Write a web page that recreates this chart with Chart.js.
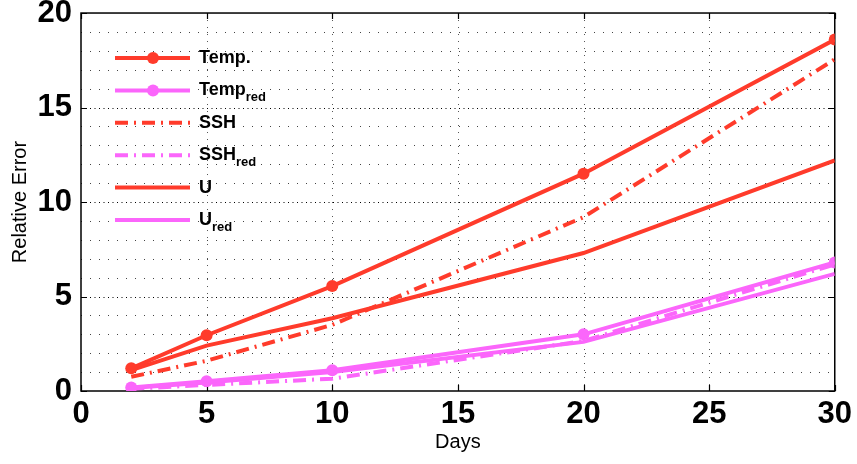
<!DOCTYPE html>
<html>
<head>
<meta charset="utf-8">
<script src="https://cdn.jsdelivr.net/npm/chart.js@4"></script>
<style>
  html, body { margin: 0; padding: 0; background: #fff; }
  #wrap { width: 857px; height: 464px; }
</style>
</head>
<body>
<div id="wrap"><canvas id="chart"></canvas></div>
<script>
// data
const days = [2, 5, 10, 20, 30];
const temp = [1.2, 2.95, 5.55, 11.5, 18.6];
const tempRed = [0.18, 0.52, 1.1, 3.0, 6.8];
const ssh = [0.75, 1.6, 3.5, 9.2, 17.55];
const sshRed = [0.12, 0.32, 0.65, 2.65, 6.7];
const u = [1.1, 2.4, 3.85, 7.3, 12.2];
const uRed = [0.16, 0.45, 1.0, 2.6, 6.2];
const xTicks = [0, 5, 10, 15, 20, 25, 30];
const yTicks = [0, 5, 10, 15, 20];

const RED = '#ff3b2b';
const MAG = '#fb66fb';
const SSH_DASH = [13, 6, 2, 6];

function pts(ys) { return days.map((d, i) => ({ x: d, y: ys[i] })); }

const datasets = [
  { label: 'Temp.', sub: '', data: pts(temp), borderColor: RED, backgroundColor: RED, pointRadius: 6, borderDash: [] },
  { label: 'Temp', sub: 'red', data: pts(tempRed), borderColor: MAG, backgroundColor: MAG, pointRadius: 6, borderDash: [] },
  { label: 'SSH', sub: '', data: pts(ssh), borderColor: RED, backgroundColor: RED, pointRadius: 0, borderDash: SSH_DASH },
  { label: 'SSH', sub: 'red', data: pts(sshRed), borderColor: MAG, backgroundColor: MAG, pointRadius: 0, borderDash: SSH_DASH },
  { label: 'U', sub: '', data: pts(u), borderColor: RED, backgroundColor: RED, pointRadius: 0, borderDash: [] },
  { label: 'U', sub: 'red', data: pts(uRed), borderColor: MAG, backgroundColor: MAG, pointRadius: 0, borderDash: [] }
].map(d => Object.assign(d, { borderWidth: 4, pointBorderWidth: 0, pointHoverRadius: 6, fill: false, tension: 0 }));

// dotted grid, box and inward ticks (matlab style)
const gridPlugin = {
  id: 'matlabGrid',
  beforeDatasetsDraw(chart) {
    const { ctx, chartArea: a, scales: { x, y } } = chart;
    ctx.save();
    ctx.lineWidth = 1;
    for (let v = 1; v < 20; v++) {
      const py = Math.round(y.getPixelForValue(v)) + 0.5;
      const major = v % 5 === 0;
      ctx.strokeStyle = major ? '#000' : '#444';
      ctx.setLineDash(major ? [1, 3.5] : [1, 8]);
      ctx.beginPath(); ctx.moveTo(a.left, py); ctx.lineTo(a.right, py); ctx.stroke();
    }
    ctx.strokeStyle = '#555';
    ctx.setLineDash([1, 6]);
    xTicks.slice(1, -1).forEach(v => {
      const px = Math.round(x.getPixelForValue(v)) + 0.5;
      ctx.beginPath(); ctx.moveTo(px, a.top); ctx.lineTo(px, a.bottom); ctx.stroke();
    });
    ctx.setLineDash([]);
    ctx.strokeStyle = '#000';
    ctx.lineWidth = 1.5;
    ctx.strokeRect(a.left, a.top, a.right - a.left, a.bottom - a.top);
    ctx.lineWidth = 1.2;
    xTicks.forEach(v => {
      const px = Math.round(x.getPixelForValue(v)) + 0.5;
      ctx.beginPath();
      ctx.moveTo(px, a.bottom); ctx.lineTo(px, a.bottom - 6);
      ctx.moveTo(px, a.top); ctx.lineTo(px, a.top + 6);
      ctx.stroke();
    });
    yTicks.forEach(v => {
      const py = Math.round(y.getPixelForValue(v)) + 0.5;
      ctx.beginPath();
      ctx.moveTo(a.left, py); ctx.lineTo(a.left + 6, py);
      ctx.moveTo(a.right, py); ctx.lineTo(a.right - 6, py);
      ctx.stroke();
    });
    ctx.restore();
  },
  afterDatasetsDraw(chart) {
    // legend with subscripts
    const { ctx } = chart;
    ctx.save();
    chart.data.datasets.forEach((ds, i) => {
      const cy = 58 + i * 32.4;
      ctx.strokeStyle = ds.borderColor;
      ctx.lineWidth = ds.borderWidth;
      ctx.setLineDash(ds.borderDash);
      ctx.beginPath(); ctx.moveTo(115, cy); ctx.lineTo(190, cy); ctx.stroke();
      ctx.setLineDash([]);
      if (ds.pointRadius > 0) {
        ctx.fillStyle = ds.backgroundColor;
        ctx.beginPath(); ctx.arc(153, cy, ds.pointRadius, 0, Math.PI * 2); ctx.fill();
      }
      ctx.fillStyle = '#000';
      ctx.textBaseline = 'alphabetic';
      ctx.font = 'bold 18px "Liberation Sans", Arial, sans-serif';
      ctx.fillText(ds.label, 199, cy + 5);
      if (ds.sub) {
        const w = ctx.measureText(ds.label).width;
        ctx.font = 'bold 13px "Liberation Sans", Arial, sans-serif';
        ctx.fillText(ds.sub, 199 + w, cy + 11);
      }
    });
    ctx.restore();
  }
};

const xTickFont = { family: '"Liberation Sans", Arial, sans-serif', size: 31, weight: 'bold' };
// small lineHeight keeps chart.js from reserving extra room above the top label
const yTickFont = { family: '"Liberation Sans", Arial, sans-serif', size: 31, weight: 'bold', lineHeight: 0.26 };
const titleFont = { family: '"Liberation Sans", Arial, sans-serif', size: 20 };

new Chart(document.getElementById('chart'), {
  type: 'line',
  data: { datasets: datasets },
  plugins: [gridPlugin],
  options: {
    responsive: true,
    maintainAspectRatio: false,
    animation: false,
    layout: { padding: { top: 0, right: 20, left: 0, bottom: 0 } },
    plugins: { legend: { display: false }, tooltip: { enabled: false } },
    scales: {
      x: {
        type: 'linear', min: 0, max: 30,
        afterBuildTicks: s => { s.ticks = xTicks.map(v => ({ value: v })); },
        afterFit: s => { s.height = 73; },
        grid: { display: false, drawTicks: false },
        border: { display: false },
        ticks: { color: '#000', font: xTickFont, padding: 5, maxRotation: 0, autoSkip: false },
        title: { display: true, text: 'Days', color: '#000', font: titleFont, padding: { top: 0, bottom: 10 } }
      },
      y: {
        type: 'linear', min: 0, max: 20,
        afterBuildTicks: s => { s.ticks = yTicks.map(v => ({ value: v })); },
        afterFit: s => { s.width = 81; },
        grid: { display: false, drawTicks: false },
        border: { display: false },
        ticks: { color: '#000', font: yTickFont, padding: 9 },
        title: { display: true, text: 'Relative Error', color: '#000', font: titleFont, padding: { top: 8, bottom: 0 } }
      }
    }
  }
});
</script>
</body>
</html>
